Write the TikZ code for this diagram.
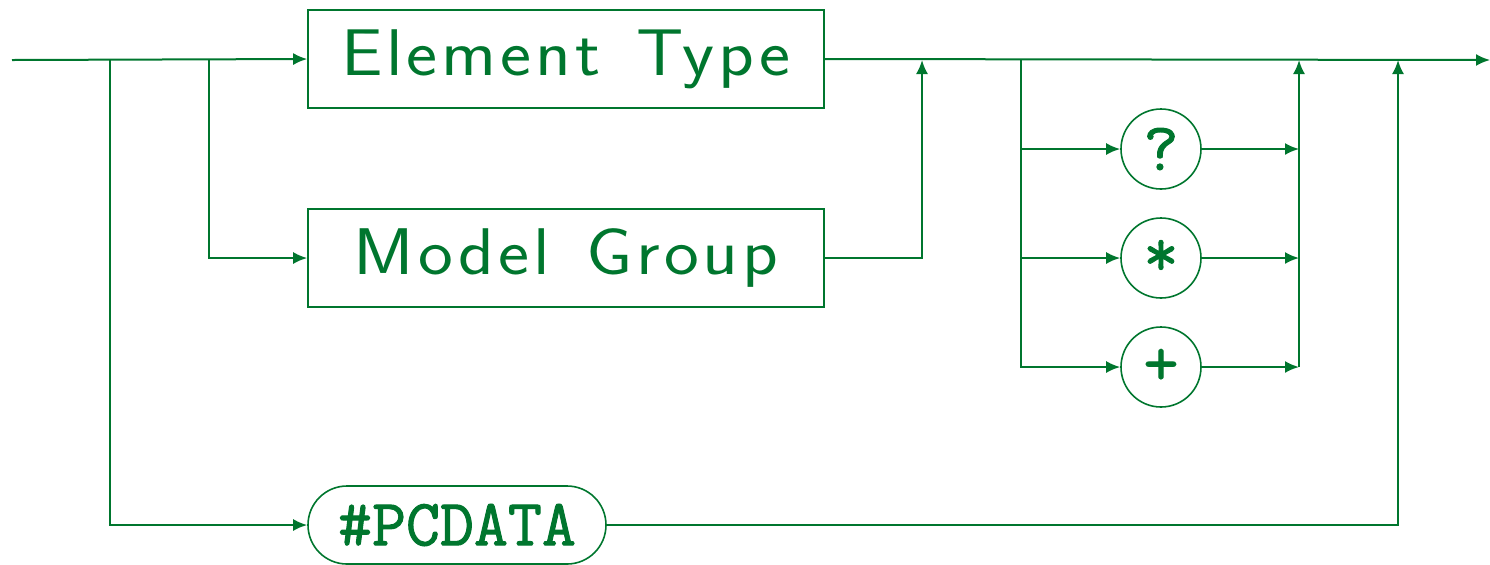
\documentclass[tikz,border=0pt]{standalone}
\usepackage{fontspec}
\setmainfont{Latin Modern Roman}
\setsansfont{Latin Modern Sans}
\setmonofont{Latin Modern Mono}
\newfontfamily\widesans[FakeStretch=1.12,LetterSpace=6]{Latin Modern Sans}
\newfontfamily\heavytt[FakeBold=1.5]{Latin Modern Mono}
\usetikzlibrary{arrows.meta}
\definecolor{dg}{RGB}{0,118,46}
\begin{document}
\begin{tikzpicture}[x=0.5pt,y=-0.5pt,
  arr/.style={-{Latex[length=7pt,width=6pt]}, line width=1pt, draw=dg},
  boxn/.style={draw=dg, line width=0.8pt, rectangle, inner sep=0pt, minimum width=258pt, minimum height=49pt, text=dg, font=\fontsize{33}{36}\widesans},
  circn/.style={draw=dg, line width=0.8pt, circle, inner sep=0pt, minimum size=40pt, text=dg, font=\fontsize{34}{36}\heavytt},
  termn/.style={draw=dg, line width=0.8pt, rectangle, rounded corners=19.5pt, inner sep=0pt, minimum width=149pt, minimum height=39pt, text=dg, font=\fontsize{33}{36}\heavytt}
]
\useasboundingbox (0,0) rectangle (1490,564);
\node[boxn] (ET) at (566,59) {Element\hspace{0.55em}Type};
\node[boxn] (MG) at (566,258) {Model\hspace{0.55em}Group};
\node[circn] (Q) at (1161,149) {?};
\node[circn] (S) at (1161,258) {*};
\node[circn] (P) at (1161,367) {+};
\node[termn] (PC) at (457,525) {\#PCDATA};
\coordinate (s) at (12,60);
\coordinate (e) at (1490,60);
\coordinate (j1) at (110,60);
\coordinate (j2) at (209,60);
\coordinate (m1) at (922,60);
\coordinate (q1) at (1021,60);
\coordinate (r1) at (1299,60);
\coordinate (r2) at (1398,60);
\draw[arr] (s) -- (ET.west);
\draw[arr] (ET.east) -- (e);
\draw[arr] (j2) |- (MG.west);
\draw[arr] (j1) |- (PC.west);
\draw[arr] (MG.east) -| (m1);
\draw[arr] (q1) |- (Q.west);
\draw[arr] (q1) |- (S.west);
\draw[arr] (q1) |- (P.west);
\draw[arr] (Q.east) -- (Q.east -| r1);
\draw[arr] (S.east) -- (S.east -| r1);
\draw[arr] (P.east) -- (P.east -| r1);
\draw[arr] (P.east -| r1) -- (r1);
\draw[arr] (PC.east) -| (r2);
\end{tikzpicture}
\end{document}
